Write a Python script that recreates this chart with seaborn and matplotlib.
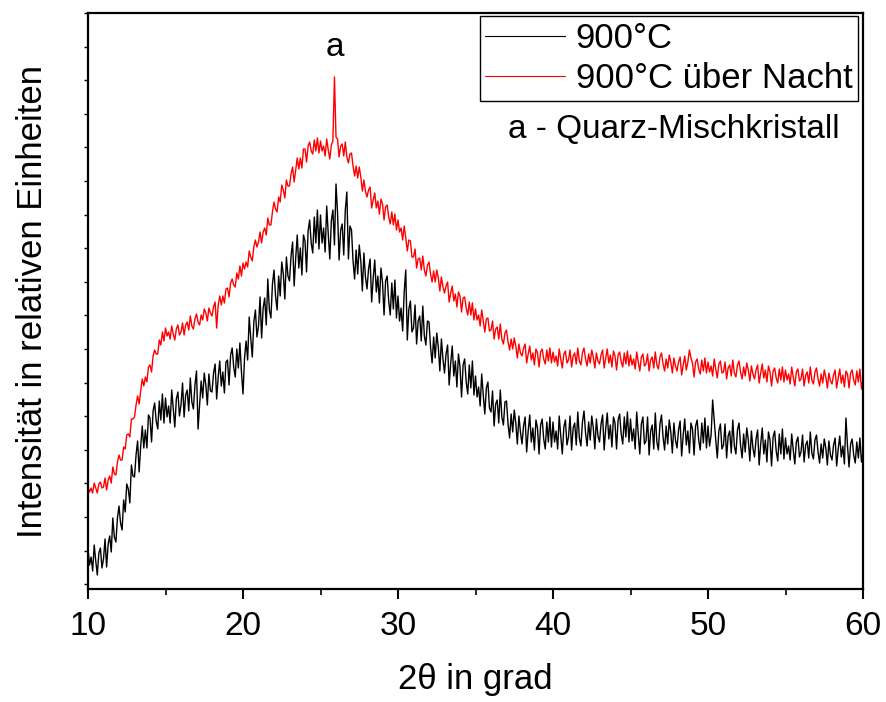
import numpy as np
import pandas as pd
import matplotlib
matplotlib.use("Agg")
import matplotlib.pyplot as plt
import seaborn as sns

# 2theta grid (degrees), step 0.1
two_theta = np.linspace(10, 60, 501)

# intensity (relative units), 900°C sample
i_900 = [
    35, 19, 27, 13, 39, 23, 9, 31, 36, 16,            # 10
    25, 45, 17, 40, 48, 32, 66, 47, 42, 66,           # 11
    78, 61, 54, 84, 72, 100, 95, 81, 119, 108,        # 12
    107, 129, 143, 112, 138, 158, 136, 154, 136, 169, # 13
    166, 142, 173, 181, 163, 155, 183, 164, 190, 161, # 14
    186, 167, 178, 161, 194, 175, 157, 185, 192, 168, # 15
    179, 201, 167, 189, 194, 173, 206, 182, 175, 199, # 16
    213, 155, 179, 203, 186, 211, 199, 179, 210, 193, # 17
    192, 211, 220, 185, 207, 223, 198, 212, 191, 222, # 18
    224, 199, 229, 236, 217, 207, 235, 216, 241, 212, # 19
    190, 226, 243, 224, 267, 246, 227, 262, 274, 247, # 20
    258, 287, 246, 276, 286, 259, 305, 274, 266, 300, # 21
    314, 288, 274, 308, 288, 322, 310, 285, 327, 308, # 22
    303, 328, 342, 298, 326, 349, 316, 336, 309, 349, # 23
    343, 312, 353, 364, 341, 331, 367, 341, 374, 335, # 24
    369, 341, 356, 332, 378, 350, 325, 363, 374, 339, # 25
    400, 371, 324, 354, 360, 329, 374, 392, 325, 358, # 26
    354, 323, 305, 334, 310, 339, 323, 293, 331, 307, # 27
    295, 315, 325, 282, 306, 324, 292, 308, 281, 316, # 28
    302, 269, 303, 308, 283, 269, 301, 275, 304, 266, # 29
    288, 263, 276, 253, 292, 314, 244, 275, 283, 252, # 30
    256, 279, 240, 263, 268, 243, 278, 248, 239, 263, # 31
    262, 237, 221, 247, 226, 251, 237, 213, 245, 225, # 32
    211, 230, 239, 199, 221, 238, 208, 223, 197, 230, # 33
    217, 187, 219, 225, 202, 190, 219, 196, 223, 189, # 34
    208, 187, 197, 178, 210, 189, 170, 196, 202, 176, # 35
    172, 193, 158, 180, 184, 161, 194, 167, 159, 182, # 36
    183, 160, 146, 170, 152, 174, 161, 140, 168, 152, # 37
    140, 158, 167, 132, 153, 169, 142, 156, 134, 164, # 38
    156, 130, 159, 165, 145, 135, 162, 142, 167, 137, # 39
    162, 142, 153, 135, 168, 148, 130, 157, 164, 139, # 40
    147, 168, 134, 156, 161, 139, 172, 146, 138, 162, # 41
    173, 151, 138, 162, 144, 168, 156, 135, 165, 148, # 42
    142, 160, 169, 134, 155, 171, 145, 159, 137, 167, # 43
    161, 135, 164, 170, 150, 140, 167, 147, 172, 142, # 44
    165, 143, 155, 135, 172, 150, 130, 160, 167, 140, # 45
    143, 167, 129, 153, 159, 135, 171, 142, 134, 160, # 46
    169, 147, 134, 158, 140, 164, 152, 131, 161, 144, # 47
    136, 154, 163, 128, 149, 165, 139, 153, 131, 161, # 48
    155, 129, 158, 164, 144, 134, 161, 141, 166, 136, # 49
    158, 138, 149, 184, 164, 144, 126, 153, 160, 135, # 50
    139, 160, 126, 148, 153, 131, 164, 138, 130, 154, # 51
    161, 139, 126, 150, 132, 156, 144, 123, 153, 136, # 52
    127, 145, 154, 119, 140, 156, 130, 144, 122, 152, # 53
    144, 118, 147, 153, 133, 123, 150, 130, 155, 125, # 54
    146, 130, 138, 124, 150, 134, 120, 142, 147, 127, # 55
    132, 149, 122, 139, 143, 126, 152, 131, 125, 144, # 56
    149, 132, 121, 140, 126, 145, 136, 119, 143, 129, # 57
    124, 139, 146, 118, 135, 148, 127, 138, 120, 166, # 58
    138, 117, 140, 145, 129, 121, 142, 126, 146, 122, # 59
    132,                                              # 60
]

# intensity (relative units), 900°C over night sample
i_900_night = [
    97, 92, 96, 91, 101, 96, 91, 100, 102, 96,        # 10
    97, 106, 94, 104, 108, 101, 117, 110, 109, 122,   # 11
    129, 124, 124, 137, 135, 149, 150, 147, 165, 165, # 12
    167, 179, 188, 180, 193, 205, 198, 207, 202, 217, # 13
    219, 212, 228, 234, 230, 230, 244, 239, 252, 243, # 14
    256, 248, 252, 245, 258, 250, 244, 255, 259, 249, # 15
    252, 261, 249, 259, 262, 254, 268, 258, 255, 265, # 16
    270, 262, 259, 269, 264, 275, 271, 263, 276, 271, # 17
    268, 277, 282, 256, 279, 288, 279, 288, 281, 295, # 18
    296, 287, 301, 305, 299, 297, 311, 305, 318, 308, # 19
    321, 315, 322, 317, 333, 327, 323, 337, 344, 337, # 20
    342, 352, 341, 352, 356, 349, 366, 359, 359, 372, # 21
    382, 375, 372, 387, 382, 399, 394, 386, 404, 398, # 22
    398, 410, 417, 402, 414, 426, 415, 426, 416, 435, # 23
    435, 422, 438, 442, 433, 430, 444, 433, 446, 431, # 24
    443, 433, 438, 428, 445, 434, 425, 439, 443, 507, # 25
    447, 445, 427, 438, 440, 428, 442, 427, 421, 430, # 26
    431, 418, 408, 418, 406, 417, 407, 393, 404, 393, # 27
    387, 394, 397, 376, 384, 391, 376, 383, 370, 385, # 28
    380, 364, 377, 379, 367, 360, 372, 359, 370, 354, # 29
    364, 352, 356, 344, 358, 346, 333, 344, 343, 327, # 30
    327, 335, 316, 325, 326, 314, 328, 314, 308, 319, # 31
    322, 310, 302, 313, 302, 314, 306, 293, 307, 297, # 32
    291, 298, 302, 282, 291, 298, 283, 290, 277, 292, # 33
    288, 272, 286, 287, 276, 269, 282, 269, 281, 264, # 34
    275, 264, 269, 258, 274, 263, 252, 265, 266, 253, # 35
    254, 263, 245, 255, 257, 245, 260, 245, 240, 251, # 36
    254, 242, 234, 245, 235, 246, 238, 226, 240, 231, # 37
    228, 236, 240, 221, 230, 238, 224, 231, 219, 235, # 38
    231, 217, 232, 235, 225, 220, 234, 223, 236, 221, # 39
    232, 222, 228, 218, 235, 225, 216, 230, 233, 221, # 40
    224, 234, 217, 228, 231, 220, 236, 223, 219, 231, # 41
    236, 225, 218, 230, 221, 234, 227, 216, 231, 223, # 42
    220, 229, 234, 216, 226, 235, 221, 229, 217, 233, # 43
    228, 214, 229, 232, 222, 217, 231, 220, 233, 218, # 44
    229, 219, 225, 215, 232, 222, 213, 227, 230, 218, # 45
    220, 230, 213, 224, 227, 216, 232, 219, 215, 227, # 46
    231, 220, 213, 225, 216, 229, 222, 211, 226, 218, # 47
    213, 222, 227, 209, 219, 228, 214, 222, 234, 226, # 48
    221, 207, 222, 225, 215, 210, 224, 213, 226, 211, # 49
    222, 212, 218, 208, 225, 215, 206, 220, 223, 211, # 50
    212, 222, 205, 216, 219, 208, 224, 211, 207, 219, # 51
    223, 212, 205, 217, 208, 221, 214, 203, 218, 210, # 52
    205, 214, 219, 201, 211, 220, 206, 214, 202, 218, # 53
    212, 198, 213, 216, 206, 201, 215, 204, 217, 202, # 54
    214, 204, 210, 200, 217, 207, 198, 212, 215, 203, # 55
    205, 215, 198, 209, 212, 201, 217, 204, 200, 212, # 56
    216, 205, 198, 210, 201, 214, 207, 196, 211, 203, # 57
    200, 209, 214, 196, 206, 215, 201, 209, 197, 213, # 58
    210, 196, 211, 214, 204, 199, 213, 202, 215, 195, # 59
    204,                                              # 60
]

series_labels = ["900°C", "900°C über Nacht"]
series_colors = ["black", "red"]
x_ticks = [10, 20, 30, 40, 50, 60]
x_label = "2θ in grad"
y_label = "Intensität in relativen Einheiten"
peak_label = "a"
peak_pos = 25.9
peak_height = 507
note_text = "a - Quarz-Mischkristall"

sns.set_theme(style="white")
plt.rcParams["font.family"] = ["Liberation Sans", "DejaVu Sans"]
plt.rcParams["text.color"] = "black"
plt.rcParams["axes.labelcolor"] = "black"
plt.rcParams["xtick.color"] = "black"
plt.rcParams["ytick.color"] = "black"

df = pd.concat([
    pd.DataFrame({"x": two_theta, "y": i_900, "s": series_labels[0]}),
    pd.DataFrame({"x": two_theta, "y": i_900_night, "s": series_labels[1]}),
])

fig = plt.figure(figsize=(8.86, 7.02), dpi=100)
ax = fig.add_axes([88 / 886, 113 / 702, 775 / 886, 576 / 702])

for lab, col in zip(series_labels, series_colors):
    sub = df[df["s"] == lab]
    sns.lineplot(data=sub, x="x", y="y", ax=ax, color=col, linewidth=1.0,
                 estimator=None, sort=False, label=lab)

ax.set_xlim(10, 60)
ax.set_ylim(-5, 571)
ax.set_xticks(x_ticks)
ax.set_xticks(np.arange(15, 60, 10), minor=True)
ax.set_yticks(np.arange(571, -5, -33.6))
ax.set_yticklabels([])
ax.tick_params(axis="x", which="major", direction="out", length=7, width=1.5,
               bottom=True, labelsize=24, pad=9, colors="black")
ax.tick_params(axis="x", which="minor", direction="out", length=4, width=1.2,
               bottom=True, colors="black")
ax.tick_params(axis="y", which="major", direction="out", length=3, width=1.0,
               left=True, colors="black")
for sp in ax.spines.values():
    sp.set_visible(True)
    sp.set_color("black")
    sp.set_linewidth(1.6)

ax.set_xlabel(x_label, fontsize=25, color="black", va="top")
ax.xaxis.set_label_coords(0.5, -0.128)
ax.set_ylabel(y_label, fontsize=25, color="black")
ax.yaxis.set_label_coords(-0.050, 0.5)

leg = ax.legend(loc="upper right", bbox_to_anchor=(0.993, 0.994), fontsize=25,
                frameon=True, fancybox=False, framealpha=1, edgecolor="black",
                handlelength=2.3, handletextpad=0.3, labelspacing=0.22,
                borderpad=0.15, borderaxespad=0.0)
leg.get_frame().set_linewidth(1.0)
for h in leg.get_lines():
    h.set_linewidth(0.8)
for t in leg.get_texts():
    t.set_color("black")

ax.annotate(peak_label, xy=(peak_pos, peak_height), xytext=(0, 10),
            textcoords="offset points", ha="center", va="bottom", fontsize=24)
ax.text(0.97, 0.797, note_text, transform=ax.transAxes, ha="right", va="center",
        fontsize=24)

fig.savefig("out.png", dpi=100)
